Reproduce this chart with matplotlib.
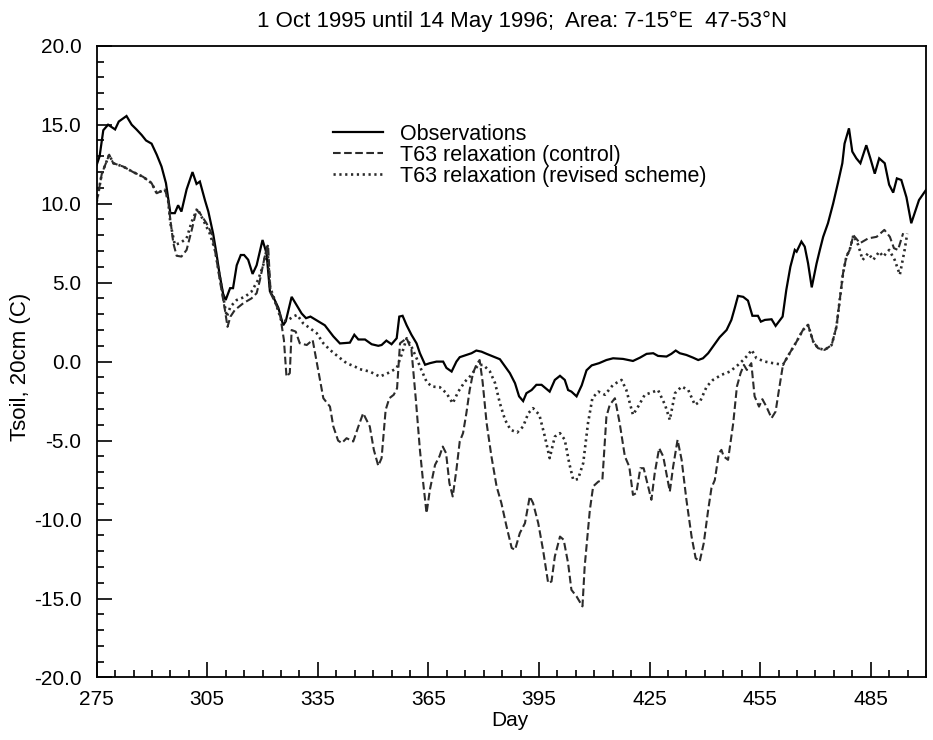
import matplotlib
matplotlib.use("Agg")
import matplotlib.pyplot as plt
from matplotlib.ticker import MultipleLocator, FormatStrFormatter

plt.rcParams['font.family'] = ['Liberation Sans', 'DejaVu Sans']
plt.rcParams['axes.unicode_minus'] = False
plt.rcParams['lines.scale_dashes'] = False

title = "1 Oct 1995 until 14 May 1996;  Area: 7-15\u00b0E  47-53\u00b0N"
xlabel = "Day"
ylabel = "Tsoil, 20cm (C)"
labels = ["Observations", "T63 relaxation (control)", "T63 relaxation (revised scheme)"]
xticks = [275, 305, 335, 365, 395, 425, 455, 485]

obs_day = [275, 275.8, 276.8, 278.1, 280, 281, 283.1, 284.5, 285.8, 287.2, 288.4, 289.9, 291.3, 292.6, 293.8,
           295, 296.2, 297.1, 298, 299.4, 301, 302.1, 303, 304.4, 305.3, 306.6, 307.5, 308.3, 309.3, 310,
           311.2, 312, 313, 314.1, 315, 316.1, 317.3, 318.4, 320, 321.1, 322, 322.9, 324.3, 325.6, 326.3,
           327.9, 329.2, 330.6, 331.8, 333, 335.1, 336.9, 339.2, 341, 343.7, 344.9, 346, 347.8, 349.6,
           351.4, 352.3, 353.6, 355, 356.4, 357.1, 358, 359.1, 360.4, 361.8, 362.7, 364.1, 365.4, 367.2,
           369, 369.9, 371.3, 372.6, 373.5, 375.3, 376.7, 378, 379.4, 380.8, 382.6, 384.4, 385.7, 387.1,
           388.5, 389.6, 390.7, 391.6, 393, 394.3, 395.7, 397.9, 399.3, 400.7, 402, 402.9, 403.8, 405.2,
           406.6, 407.9, 409.3, 411.3, 413.3, 415.1, 417.8, 420.5, 422.4, 424.2, 426, 427.3, 429.6, 430.9,
           432.1, 433.2, 435, 436.8, 438.2, 439.5, 440.9, 442.2, 444, 445.9, 447.2, 448.1, 449, 450.4,
           451.7, 452.9, 454.4, 455.2, 456.3, 458.1, 459.2, 461.1, 462.1, 463.2, 464.4, 464.9, 466.2,
           467.1, 468, 469, 470.3, 471.2, 472.1, 473.4, 474.8, 476.1, 477.3, 477.9, 479.1, 480, 481.1,
           482.2, 483.8, 484.9, 486.1, 487.3, 488.8, 490, 491.1, 492.1, 493.3, 494.7, 496, 497.2, 498.1, 500]
obs_val = [12.45, 13.0, 14.65, 15.0, 14.7, 15.2, 15.55, 15.0, 14.7, 14.35, 14.0, 13.8, 13.1, 12.35, 11.3,
           9.4, 9.4, 9.9, 9.5, 10.9, 12.0, 11.25, 11.4, 10.2, 9.5, 8.1, 6.85, 5.6, 4.3, 3.9,
           4.65, 4.65, 6.1, 6.75, 6.75, 6.45, 5.55, 6.1, 7.7, 6.85, 4.45, 4.1, 3.4, 2.3, 2.55,
           4.1, 3.6, 3.05, 2.75, 2.85, 2.55, 2.3, 1.6, 1.15, 1.2, 1.7, 1.4, 1.4, 1.1,
           1.0, 1.05, 1.33, 1.1, 1.48, 2.85, 2.9, 2.3, 1.7, 1.15, 0.53, -0.2, -0.1, 0.0,
           0.0, -0.4, -0.63, 0.0, 0.28, 0.42, 0.53, 0.7, 0.63, 0.49, 0.32, 0.15, -0.27, -0.73,
           -1.37, -2.2, -2.5, -2.0, -1.8, -1.47, -1.47, -1.9, -1.16, -0.9, -1.16, -1.8, -1.9, -2.2,
           -1.5, -0.55, -0.24, -0.1, 0.1, 0.21, 0.17, 0.04, 0.25, 0.49, 0.53, 0.36, 0.32, 0.49,
           0.7, 0.53, 0.42, 0.25, 0.1, 0.21, 0.53, 0.95, 1.54, 2.0, 2.64, 3.38, 4.16, 4.1,
           3.86, 2.9, 2.9, 2.53, 2.64, 2.68, 2.26, 2.85, 4.54, 6.0, 7.07, 6.96, 7.6,
           7.28, 6.23, 4.7, 6.2, 7.07, 7.9, 8.76, 10.0, 11.3, 12.56, 13.8, 14.77, 13.3, 12.87,
           12.56, 13.7, 12.87, 11.9, 12.87, 12.56, 11.2, 10.7, 11.6, 11.5, 10.4, 8.76, 9.6, 10.23, 10.87]

rev_day = [275, 276.4, 278.4, 279.5, 282.2, 284.9, 287.6, 289.9, 291.3, 293.5, 294.4, 295, 296.2, 297.6,
           299.4, 300.8, 302.3, 303.9, 305.7, 307.1, 308.4, 309.8, 310.3, 311.3, 313, 315.2, 317, 318.8,
           320.2, 321.3, 322, 323.3, 325.2, 327, 328.3, 329.4, 331, 332.9, 334.7, 336.5, 338.3, 340.5,
           342.8, 345.1, 346.4, 349.1, 351.8, 354, 356.4, 357.7, 359.1, 360.4, 361.8, 363.1, 364.5,
           365.9, 368.1, 369.9, 371.6, 373.1, 374.9, 376.7, 378.5, 379.9, 381.7, 383.1, 384.4, 385.8,
           387.3, 389.1, 390.7, 392.1, 393.4, 395.1, 396.6, 397.9, 399.3, 400.7, 402, 403.2, 404.3,
           405.6, 407, 408.3, 409.5, 411.1, 412.9, 415.1, 417.4, 418.7, 420.5, 421.9, 423.7, 425.5,
           427.3, 429.2, 430.5, 431.9, 433.7, 435.5, 437.3, 438.7, 440.5, 442.2, 444.5, 446.8, 449,
           450.4, 451.7, 452.7, 454, 456.3, 458.5, 461.2, 463, 464.9, 466.6, 468, 469.4, 470.7, 472.5,
           474.4, 475.7, 476.6, 477.5, 478.4, 479.3, 480.3, 481.6, 482.8, 484.3, 485.7, 487.3, 488.4,
           490, 491.5, 492.9, 494.2, 494.9]
rev_val = [10.1, 11.9, 13.1, 12.56, 12.35, 12.0, 11.7, 11.3, 10.66, 10.9, 10.2, 8.76, 7.4, 7.5,
           7.8, 8.86, 9.7, 8.97, 8.1, 7.07, 5.38, 3.48, 2.85, 3.48, 3.9, 4.1, 4.43, 5.17,
           6.12, 7.28, 4.75, 3.9, 2.53, 2.64, 2.85, 2.96, 2.43, 2.11, 1.8, 1.16, 0.74, 0.32,
           -0.1, -0.32, -0.48, -0.63, -0.95, -0.73, -0.42, 0.42, 1.48, 0.95, 0.21, -0.53, -1.27,
           -1.58, -1.62, -2.0, -2.64, -1.9, -1.27, -0.84, -0.21, -0.21, -0.63, -1.37, -2.64, -3.69,
           -4.32, -4.49, -4.11, -3.27, -2.95, -3.37, -4.75, -6.11, -4.75, -4.53, -4.95, -6.43, -7.49,
           -7.44, -6.43, -3.9, -2.3, -1.9, -2.1, -1.47, -1.16, -1.8, -3.37, -2.85, -2.1, -1.96,
           -1.8, -2.74, -3.69, -2.0, -1.58, -1.8, -2.74, -2.53, -1.58, -1.16, -0.84, -0.63, -0.21,
           0.1, 0.42, 0.74, 0.21, 0.0, -0.1, -0.2, 0.53, 1.27, 2.0, 2.32, 1.27, 0.85, 0.74,
           1.05, 2.2, 3.9, 5.6, 6.65, 7.07, 8.0, 7.39, 6.44, 6.86, 6.44, 6.96, 6.65,
           7.07, 6.44, 5.5, 7.07, 8.1]

ctl_day = [275, 276.4, 278.4, 279.5, 282.2, 284.9, 287.6, 289.9, 291.3, 293.5, 294.4,
           295, 295.8, 296.7, 298, 299.4, 300.8, 302.1, 303, 304.8, 306.2, 307.4, 308.4, 309.8, 310.5,
           311.3, 312.5, 314.8, 317, 318.4, 319.3, 320.6, 321.5, 322.2, 323.3, 324.7, 325.4, 325.8,
           326.5, 327.4, 327.9, 329, 330.1, 332, 333.6, 335.1, 336.5, 338.3, 339.2, 340.5, 341.5,
           342.8, 344.6, 346, 347.3, 349.1, 350.2, 351.4, 352.3, 353.4, 354.4, 355.6, 356.5, 357.3,
           359.1, 360.4, 361.6, 362.7, 363.6, 364.5, 365.4, 366.8, 368, 368.9, 369.8, 370.7, 371.6,
           372.6, 373.5, 374.4, 375.3, 376.2, 377.1, 378, 378.9, 379.7, 380.8, 382.1, 383.5, 384.8,
           386.2, 387.6, 388.5, 389.8, 391.2, 392.5, 393.4, 394.8, 396.1, 397.5, 398.4, 399.3, 400.7,
           401.7, 402.9, 403.8, 405.2, 406.8, 407.4, 408.8, 409.7, 411.1, 412.2, 413.3, 414.2, 415.6,
           416.9, 418.3, 419.5, 420.5, 421.4, 422.5, 423.4, 424.6, 425.5, 426.4, 427.6, 428.7, 430.5,
           431.4, 432.6, 433.7, 435, 436.4, 437.5, 438.6, 439.7, 440.9, 441.8, 442.7, 443.8, 444.5,
           445.1, 446.3, 447.7, 448.7, 449.7, 450.6, 451.4, 452.6, 453.5, 454.7, 455.6, 456.7, 458.1,
           459.2, 460.1, 461.2, 463, 464.9, 466.6, 468, 469.4, 470.7, 472.5, 474.4, 475.7, 476.6,
           477.5, 478.4, 479.3, 480.3, 482.1, 484.3, 486.6, 488.7, 490.2, 491.3, 492.4, 493.8]
ctl_val = [10.1, 11.9, 13.1, 12.56, 12.35, 12.0, 11.7, 11.3, 10.66, 10.9, 10.2,
           8.97, 7.5, 6.7, 6.65, 7.07, 8.34, 9.6, 9.4, 8.76, 8.1, 6.65, 5.17, 3.27, 2.2,
           2.85, 3.27, 3.7, 4.0, 4.33, 5.17, 6.65, 7.4, 4.33, 3.8, 3.06, 2.0, 1.37,
           -0.95, -0.73, 2.0, 1.9, 1.16, 1.05, 1.37, -0.53, -2.32, -2.85, -4.1, -5.0, -5.16,
           -4.85, -5.06, -4.11, -3.27, -4.11, -5.59, -6.6, -6.11, -3.06, -2.32, -2.1, -1.69, 1.16,
           1.48, 0.74, -2.42, -5.59, -7.7, -9.6, -8.12, -6.54, -6.0, -5.38, -5.8, -7.7, -8.54,
           -6.85, -5.06, -4.53, -3.27, -1.8, -0.73, -0.21, 0.1, -1.27, -3.9, -6.0, -7.9, -8.96,
           -10.44, -11.8, -11.92, -10.86, -10.23, -8.54, -8.96, -10.23, -11.92, -14.03, -13.92, -12.34, -11.08,
           -11.28, -12.76, -14.45, -14.87, -15.5, -12.97, -9.4, -7.9, -7.6, -7.5, -3.48, -2.74, -2.32,
           -3.9, -6.0, -6.65, -8.44, -8.33, -6.75, -6.75, -7.9, -8.75, -7.07, -5.48, -6.0, -8.23,
           -6.65, -4.95, -6.22, -8.75, -11.08, -12.44, -12.66, -11.5, -9.4, -8.0, -7.5, -5.8, -5.59,
           -6.0, -6.22, -3.9, -1.58, -0.73, -0.21, -0.53, -0.1, -2.2, -2.85, -2.38, -2.85, -3.58,
           -3.16, -1.8, -0.2, 0.53, 1.27, 2.0, 2.32, 1.27, 0.85, 0.74, 1.05, 2.2, 3.9,
           5.6, 6.65, 7.07, 8.0, 7.5, 7.8, 7.9, 8.34, 7.9, 7.18, 7.07, 8.13]

fig = plt.figure(figsize=(9.33, 7.40), dpi=100)
ax = fig.add_axes([0.1036, 0.0845, 0.8889, 0.8537])

ax.plot(obs_day, obs_val, color='black', lw=1.6, solid_joinstyle='miter', label=labels[0])
ax.plot(ctl_day, ctl_val, color='#2b2b2b', lw=1.5, dashes=(5.5, 2.5), label=labels[1])
ax.plot(rev_day, rev_val, color='#2b2b2b', lw=1.9, dashes=(1.6, 2.6), label=labels[2])

ax.set_xlim(275, 500)
ax.set_ylim(-20, 20)
ax.set_xticks(xticks)
ax.xaxis.set_minor_locator(MultipleLocator(5))
ax.yaxis.set_major_locator(MultipleLocator(5))
ax.yaxis.set_minor_locator(MultipleLocator(1))
ax.yaxis.set_major_formatter(FormatStrFormatter('%.1f'))
ax.tick_params(which='both', direction='in', top=False, right=False, width=1.2, labelsize=15)
ax.tick_params(which='major', length=10.5, pad=9)
ax.tick_params(which='minor', length=5.3)
ax.tick_params(axis='y', which='major', pad=11)
for s in ax.spines.values():
    s.set_linewidth(1.3)

leg = ax.legend(loc='upper left', bbox_to_anchor=(0.285, 0.8765), frameon=False, fontsize=15.5,
                handlelength=2.3, handletextpad=0.8, labelspacing=0.0, borderpad=0, borderaxespad=0)

fig.text(0.56, 0.9716, title, ha='center', va='center', fontsize=16)
fig.text(0.547, 0.027, xlabel, ha='center', va='center', fontsize=15)
fig.text(0.0225, 0.504, ylabel, ha='center', va='center', rotation=90, fontsize=16)

fig.savefig('out.png', dpi=100)
